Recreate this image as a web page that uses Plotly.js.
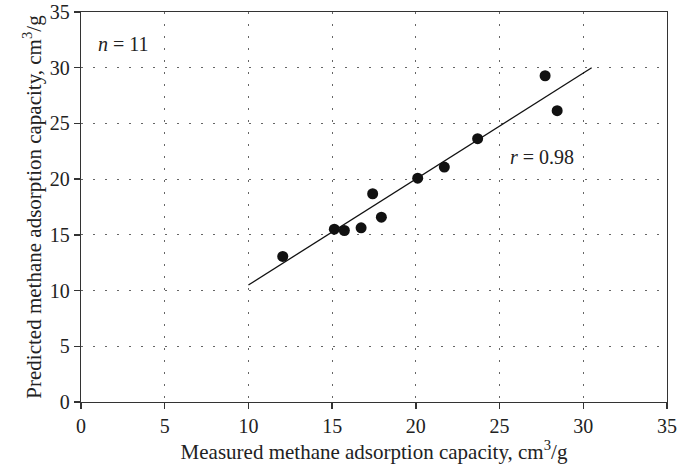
<!DOCTYPE html>
<html><head><meta charset="utf-8">
<script src="https://cdn.plot.ly/plotly-3.0.1.min.js"></script>
<style>body{margin:0;padding:0;background:#fff}#c{width:677px;height:471px}</style>
</head><body><div id="c"></div>
<script>
const measured = [12.05, 15.13, 15.73, 16.73, 17.42, 17.94, 20.11, 21.70, 23.69, 27.72, 28.44];
const predicted = [13.06, 15.51, 15.39, 15.63, 18.69, 16.59, 20.09, 21.08, 23.63, 29.28, 26.14];
const fitX = [10.0, 30.5];
const fitY = [10.5, 30.0];
const tickVals = [0, 5, 10, 15, 20, 25, 30, 35];

const font = {family: '"Liberation Serif", "DejaVu Serif", serif', size: 20, color: '#222'};
const tfont = {family: '"Liberation Serif", "DejaVu Serif", serif', size: 21, color: '#222'};
const traces = [
  {x: fitX, y: fitY, mode: 'lines', line: {color: '#111', width: 1.3}, hoverinfo: 'skip'},
  {x: measured, y: predicted, mode: 'markers', marker: {color: '#111', size: 11}}
];
const axisCommon = {
  range: [0, 35], tickvals: tickVals, ticks: 'outside', ticklen: 6, tickwidth: 1.3, tickcolor: '#333',
  showline: true, linecolor: '#333', linewidth: 1.3, mirror: true,
  showgrid: true, gridcolor: '#666', griddash: '1.5px,10.5px', gridwidth: 1.2,
  zeroline: false, tickfont: font, ticklabeloverflow: 'allow'
};
const layout = {
  width: 677, height: 471,
  margin: {l: 81, r: 10, t: 12, b: 69},
  paper_bgcolor: '#fff', plot_bgcolor: '#fff',
  showlegend: false, font: font,
  xaxis: Object.assign({}, axisCommon, {title: {text: 'Measured methane adsorption capacity, cm<sup>3</sup>/g', font: tfont, standoff: 3}}),
  yaxis: Object.assign({}, axisCommon, {title: {text: 'Predicted methane adsorption capacity, cm<sup>3</sup>/g', font: tfont, standoff: 2}}),
  annotations: [
    {x: 0.9, y: 32.1, xref: 'x', yref: 'y', xanchor: 'left', showarrow: false, text: '<i>n</i> = 11', font: font},
    {x: 25.5, y: 22.0, xref: 'x', yref: 'y', xanchor: 'left', showarrow: false, text: '<i>r</i> = 0.98', font: font}
  ]
};
Plotly.newPlot('c', traces, layout, {staticPlot: true, displayModeBar: false});
</script></body></html>
